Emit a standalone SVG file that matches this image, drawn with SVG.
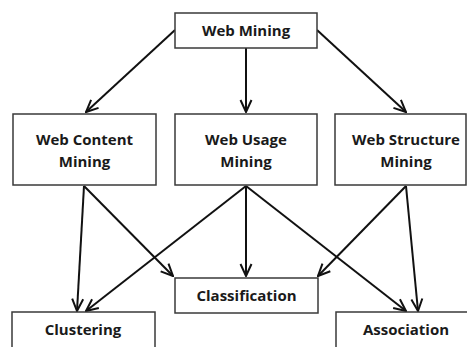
<svg xmlns="http://www.w3.org/2000/svg" width="467" height="347" viewBox="0 0 467 347">
<defs>
<style>
.box{fill:#fff;stroke:#3a3a3a;stroke-width:1.5}
.t{font-family:"Open Sans","Liberation Sans",sans-serif;font-weight:bold;font-size:15px;fill:#1a1a1a;text-anchor:middle}
.c{stroke:#111;stroke-width:2;fill:none;marker-end:url(#ah)}
</style>
<marker id="ah" viewBox="0 0 14 14" refX="13" refY="7" markerWidth="14" markerHeight="14" markerUnits="userSpaceOnUse" orient="auto">
<path d="M1,1.5 L13,7 L1,12.5" fill="none" stroke="#111" stroke-width="2"/>
</marker>
</defs>
<rect width="467" height="347" fill="#fff"/>
<g id="connectors">
<line class="c" x1="175" y1="30" x2="86" y2="112"/>
<line class="c" x1="246" y1="48" x2="246" y2="112"/>
<line class="c" x1="317" y1="30" x2="406" y2="112"/>
<line class="c" x1="84" y1="186" x2="77" y2="311"/>
<line class="c" x1="84" y1="186" x2="173" y2="276"/>
<line class="c" x1="246" y1="186" x2="86" y2="311"/>
<line class="c" x1="246" y1="186" x2="246" y2="276"/>
<line class="c" x1="246" y1="186" x2="406" y2="311"/>
<line class="c" x1="406" y1="186" x2="318" y2="276"/>
<line class="c" x1="406" y1="186" x2="418" y2="311"/>
</g>
<g id="web-mining"><rect class="box" x="175" y="13" width="142" height="35"/><text class="t" x="246" y="36">Web Mining</text></g>
<g id="web-content-mining"><rect class="box" x="13" y="114" width="143" height="71"/><text class="t" x="84.5" y="145">Web Content</text><text class="t" x="84.5" y="167">Mining</text></g>
<g id="web-usage-mining"><rect class="box" x="175" y="114" width="142" height="71"/><text class="t" x="246" y="145">Web Usage</text><text class="t" x="246" y="167">Mining</text></g>
<g id="web-structure-mining"><rect class="box" x="335" y="114" width="131" height="71"/><text class="t" x="406" y="145">Web Structure</text><text class="t" x="406" y="167">Mining</text></g>
<g id="classification"><rect class="box" x="175" y="278" width="143" height="35"/><text class="t" x="246.5" y="301">Classification</text></g>
<g id="clustering"><rect class="box" x="12" y="312" width="143" height="40"/><text class="t" x="83" y="335">Clustering</text></g>
<g id="association"><rect class="box" x="336" y="312" width="135" height="40"/><text class="t" x="406" y="335">Association</text></g>
</svg>
